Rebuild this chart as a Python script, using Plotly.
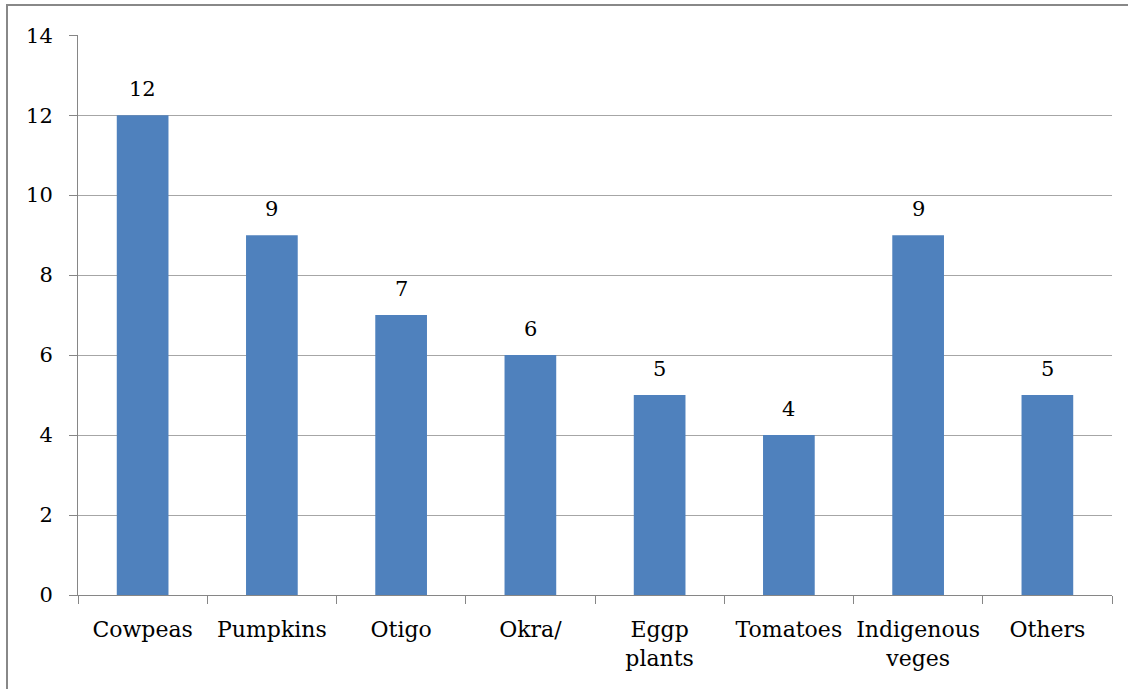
import plotly.graph_objects as go

categories = ["Cowpeas", "Pumpkins", "Otigo", "Okra/", "Eggp<br>plants", "Tomatoes", "Indigenous<br>veges", "Others"]
values = [12, 9, 7, 6, 5, 4, 9, 5]
y_ticks = [0, 2, 4, 6, 8, 10, 12, 14]

FONT = "DejaVu Serif"
FS = 21
FSX = 22

fig = go.Figure(go.Bar(
    x=categories, y=values,
    marker=dict(color="#4F81BD", line=dict(width=0)),
    hoverinfo="x+y",
))

annotations = [
    dict(x=c, y=v, xref="x", yref="y", text=str(v), showarrow=False,
         yanchor="bottom", yshift=12, font=dict(family=FONT, size=FS, color="#000000"))
    for c, v in zip(categories, values)
]

fig.update_layout(
    width=1128, height=689,
    margin=dict(l=78, r=16, t=35, b=94, autoexpand=False),
    paper_bgcolor="white", plot_bgcolor="white",
    bargap=0.6, showlegend=False,
    font=dict(family=FONT, size=FS, color="#000000"),
    xaxis=dict(
        tickson="boundaries", ticks="outside", ticklen=8, tickcolor="#868686",
        showline=True, linecolor="#868686", linewidth=1, tickangle=0, automargin=False,
        showgrid=False, tickfont=dict(family=FONT, size=FSX, color="#000000"),
        ticklabelstandoff=15,
    ),
    yaxis=dict(
        range=[0, 14.005], tickvals=y_ticks, ticks="outside", ticklen=8, tickcolor="#868686",
        showline=True, linecolor="#868686", linewidth=1, automargin=False,
        showgrid=True, gridcolor="#A6A6A6", gridwidth=1, zeroline=False,
        tickfont=dict(family=FONT, size=FS, color="#000000"),
        ticklabelstandoff=12,
    ),
    annotations=annotations,
    shapes=[
        dict(type="line", xref="paper", yref="paper",
             x0=(6 - 78) / 1034, x1=1.2, y0=(689 - 5 - 94) / 560, y1=(689 - 5 - 94) / 560,
             line=dict(color="#888888", width=2)),
        dict(type="line", xref="paper", yref="paper",
             x0=(7 - 78) / 1034, x1=(7 - 78) / 1034, y0=(689 - 4 - 94) / 560, y1=-0.5,
             line=dict(color="#888888", width=2)),
    ],
)

fig.write_html("out.html", config={"displayModeBar": False},
               post_script="document.body.style.margin='0';document.body.style.overflow='hidden';")
